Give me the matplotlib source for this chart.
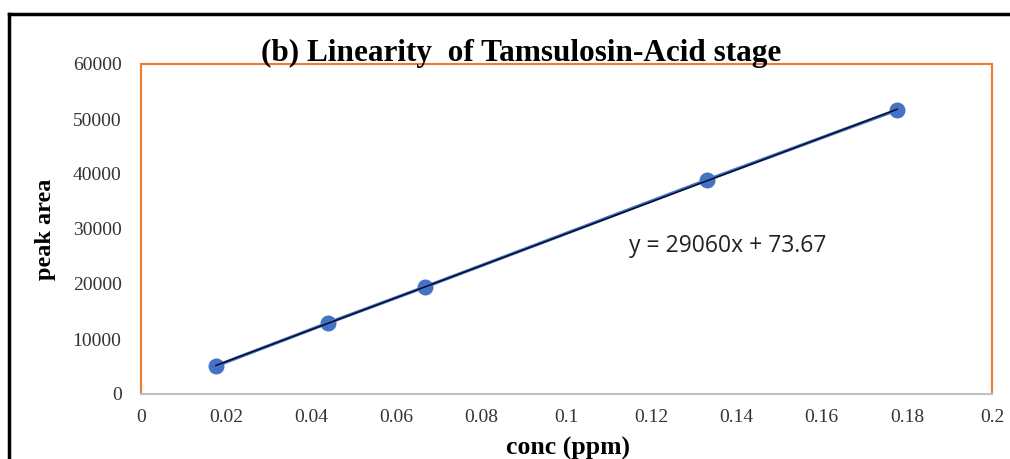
import matplotlib.pyplot as plt
import numpy as np
from matplotlib.lines import Line2D

# data
conc = [0.0176, 0.0439, 0.0667, 0.1330, 0.1777]
area = [5100, 12900, 19450, 38900, 51650]
eq_label = "y = 29060x + 73.67"

xticks = [0, 0.02, 0.04, 0.06, 0.08, 0.1, 0.12, 0.14, 0.16, 0.18, 0.2]
xticklabels = ["0", "0.02", "0.04", "0.06", "0.08", "0.1", "0.12", "0.14", "0.16", "0.18", "0.2"]
yticks = [0, 10000, 20000, 30000, 40000, 50000, 60000]

fig = plt.figure(figsize=(10.1, 4.59), dpi=100)
ax = fig.add_axes([141/1010, 65/459, 851/1010, 330/459])

ax.plot(conc, area, color="#4472C4", lw=2.4, marker="o", ms=10.5, zorder=3)
# linear trendline through the points
m, b = np.polyfit(conc, area, 1)
xfit = np.array([conc[0], conc[-1]])
ax.plot(xfit, m*xfit + b, color="#0a0a2a", lw=1.1, zorder=4)

ax.set_xlim(0, 0.2)
ax.set_ylim(0, 60000)
ax.set_xticks(xticks)
ax.set_xticklabels(xticklabels)
ax.set_yticks(yticks)
ax.tick_params(axis="y", length=0, labelsize=14, pad=14, labelcolor="#333333")
ax.tick_params(axis="x", length=0, labelsize=14, pad=11, labelcolor="#333333")
for lab in ax.get_xticklabels() + ax.get_yticklabels():
    lab.set_family("Liberation Serif")

for s in ["left", "top", "right"]:
    ax.spines[s].set_color("#ED7D31")
    ax.spines[s].set_linewidth(1.5)
ax.spines["bottom"].set_color("#BFBFBF")
ax.spines["bottom"].set_linewidth(1.5)

ax.text(0.1147, 27000, eq_label, fontsize=16.5, family="Open Sans",
        color="#222222", va="center")

fig.text(0.5155, 0.884, "(b) Linearity  of Tamsulosin-Acid stage", ha="center",
         va="center", fontsize=22.5, fontweight="bold", family="Liberation Serif")
fig.text(45/1010, 0.50, "peak area", rotation=90, ha="center", va="center",
         fontsize=17.5, fontweight="bold", family="Liberation Serif")
fig.text(568/1010, 1 - 448/459, "conc (ppm)", ha="center", va="center",
         fontsize=18.5, fontweight="bold", family="Liberation Serif")

# outer frame (left and top edges visible)
fig.add_artist(Line2D([9/1010, 9/1010], [0, 1 - 14/459], color="black", lw=2.5))
fig.add_artist(Line2D([9/1010, 1], [1 - 14/459, 1 - 14/459], color="black", lw=2.5))

fig.savefig("out.png", dpi=100)
